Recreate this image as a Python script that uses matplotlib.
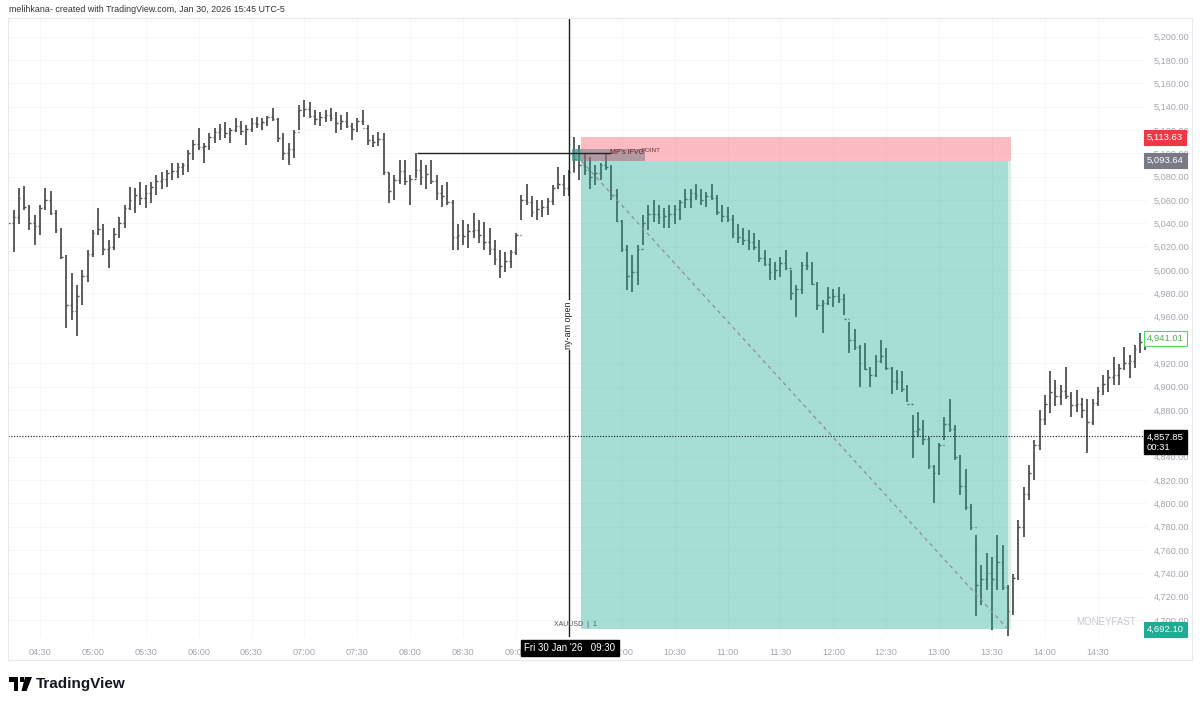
import numpy as np
import pandas as pd
import matplotlib
matplotlib.use("Agg")
import matplotlib.pyplot as plt
import matplotlib.dates as mdates
import matplotlib.transforms as mtransforms
from matplotlib.patches import Rectangle, Polygon

plt.rcParams['font.family'] = ['Liberation Sans', 'DejaVu Sans']

# XAUUSD, 3-minute bars
start = "2026-01-30 04:12"
first_open = 5060
highs = [
    5070, 5051, 5070, 5072, 5056, 5047, 5056, 5070, 5068, 5051,
    5036, 5013, 4997, 4987, 5000, 5017, 5034, 5053, 5039, 5026,
    5036, 5045, 5056, 5071, 5070, 5075, 5073, 5075, 5081, 5084,
    5086, 5092, 5092, 5092, 5103, 5111, 5122, 5109, 5117, 5122,
    5125, 5127, 5122, 5130, 5128, 5124, 5130, 5131, 5130, 5132,
    5139, 5130, 5117, 5109, 5120, 5141, 5146, 5144, 5137, 5135,
    5137, 5139, 5135, 5133, 5135, 5126, 5130, 5137, 5124, 5116,
    5118, 5117, 5083, 5081, 5094, 5094, 5081, 5100, 5094, 5090,
    5094, 5081, 5073, 5075, 5060, 5039, 5043, 5039, 5049, 5043,
    5041, 5036, 5026, 5017, 5015, 5017, 5032, 5064, 5074, 5063,
    5060, 5060, 5062, 5073, 5088, 5081, 5086, 5114, 5107, 5100,
    5097, 5090, 5092, 5099, 5090, 5069, 5043, 5021, 5013, 5021,
    5047, 5056, 5060, 5056, 5053, 5056, 5056, 5060, 5069, 5069,
    5074, 5069, 5067, 5074, 5064, 5056, 5054, 5047, 5039, 5036,
    5034, 5032, 5026, 5017, 5010, 5007, 5011, 5017, 5000, 4987,
    5007, 5015, 5007, 4990, 4974, 4985, 4984, 4985, 4979, 4955,
    4949, 4936, 4937, 4917, 4927, 4940, 4933, 4917, 4914, 4913,
    4901, 4876, 4878, 4871, 4857, 4833, 4852, 4874, 4889, 4867,
    4841, 4829, 4799, 4773, 4747, 4757, 4754, 4773, 4764, 4730,
    4739, 4786, 4814, 4833, 4854, 4880, 4893, 4913, 4906, 4901,
    4917, 4895, 4897, 4890, 4889, 4889, 4900, 4910, 4914, 4925,
    4919, 4934, 4927, 4936, 4946, 4944,
]
lows = [
    5030, 5015, 5039, 5051, 5034, 5021, 5030, 5051, 5047, 5032,
    5009, 4950, 4957, 4943, 4970, 4990, 5011, 5030, 5013, 5002,
    5017, 5027, 5036, 5051, 5049, 5056, 5053, 5057, 5064, 5069,
    5071, 5077, 5079, 5081, 5084, 5094, 5103, 5092, 5103, 5109,
    5111, 5113, 5109, 5118, 5116, 5107, 5118, 5122, 5120, 5123,
    5128, 5110, 5094, 5090, 5096, 5120, 5131, 5130, 5124, 5123,
    5127, 5128, 5117, 5120, 5122, 5111, 5118, 5124, 5107, 5105,
    5106, 5081, 5057, 5060, 5074, 5073, 5056, 5079, 5073, 5069,
    5074, 5060, 5054, 5056, 5017, 5017, 5021, 5019, 5027, 5023,
    5017, 5013, 5004, 4993, 4998, 5002, 5013, 5043, 5056, 5045,
    5043, 5045, 5047, 5056, 5069, 5063, 5063, 5084, 5077, 5081,
    5069, 5073, 5077, 5086, 5060, 5041, 5015, 4983, 4981, 4987,
    5021, 5034, 5041, 5039, 5036, 5036, 5039, 5043, 5053, 5053,
    5060, 5056, 5054, 5060, 5047, 5041, 5041, 5027, 5023, 5021,
    5017, 5017, 5007, 5003, 4991, 4991, 4994, 5000, 4974, 4960,
    4979, 5000, 4987, 4966, 4946, 4970, 4968, 4972, 4961, 4929,
    4931, 4900, 4914, 4900, 4908, 4920, 4914, 4894, 4897, 4895,
    4887, 4839, 4857, 4850, 4829, 4800, 4824, 4854, 4861, 4837,
    4807, 4794, 4777, 4703, 4713, 4726, 4691, 4726, 4726, 4686,
    4704, 4734, 4771, 4803, 4820, 4846, 4867, 4877, 4883, 4884,
    4889, 4874, 4878, 4873, 4843, 4867, 4883, 4893, 4895, 4901,
    4901, 4914, 4907, 4916, 4929, 4931,
]
closes = [
    5040, 5045, 5062, 5054, 5040, 5038, 5053, 5060, 5049, 5034,
    5011, 4970, 4965, 4978, 4995, 5014, 5032, 5035, 5018, 5020,
    5031, 5040, 5053, 5060, 5064, 5062, 5066, 5071, 5076, 5078,
    5083, 5085, 5088, 5090, 5100, 5108, 5105, 5106, 5114, 5118,
    5121, 5117, 5120, 5123, 5119, 5121, 5126, 5125, 5127, 5131,
    5129, 5113, 5100, 5104, 5118, 5137, 5138, 5132, 5129, 5131,
    5133, 5130, 5126, 5128, 5123, 5121, 5128, 5122, 5111, 5110,
    5112, 5084, 5068, 5077, 5085, 5076, 5078, 5086, 5080, 5082,
    5076, 5066, 5063, 5058, 5028, 5030, 5029, 5033, 5034, 5030,
    5024, 5018, 5009, 5003, 5008, 5015, 5030, 5060, 5058, 5050,
    5052, 5054, 5059, 5070, 5074, 5070, 5084, 5095, 5090, 5086,
    5080, 5083, 5090, 5088, 5064, 5042, 5018, 4995, 4998, 5018,
    5040, 5048, 5048, 5045, 5046, 5048, 5052, 5058, 5061, 5066,
    5064, 5060, 5063, 5062, 5050, 5046, 5044, 5032, 5028, 5026,
    5024, 5020, 5010, 5005, 4998, 5000, 5006, 5002, 4980, 4984,
    5004, 5003, 4988, 4970, 4972, 4977, 4978, 4975, 4958, 4940,
    4934, 4920, 4915, 4910, 4922, 4926, 4916, 4905, 4904, 4898,
    4885, 4862, 4864, 4855, 4832, 4826, 4850, 4868, 4864, 4840,
    4815, 4797, 4780, 4730, 4735, 4740, 4735, 4750, 4728, 4708,
    4736, 4780, 4808, 4826, 4850, 4872, 4885, 4895, 4892, 4896,
    4892, 4884, 4885, 4880, 4870, 4886, 4896, 4902, 4908, 4910,
    4916, 4920, 4922, 4932, 4938, 4941.01,
]
price_ticks = [4700, 4720, 4740, 4760, 4780, 4800, 4820, 4840, 4880, 4900,
               4920, 4960, 4980, 5000, 5020, 5040, 5060, 5080, 5100, 5120,
               5140, 5160, 5180, 5200]
time_ticks = ["04:30", "05:00", "05:30", "06:00", "06:30", "07:00", "07:30",
              "08:00", "08:30", "09:00", "10:00", "10:30", "11:00",
              "11:30", "12:00", "12:30", "13:00", "13:30", "14:00", "14:30"]

# drawings
entry, stop, target = 5093.64, 5113.63, 4692.10
last_price = 4941.01
dotted_price = 4857.85
level_price = 5100.3
ifvg_low, ifvg_high = 5093.0, 5103.5


def T(hhmm):
    return mdates.date2num(pd.Timestamp(f"2026-01-30 {hhmm}"))


def fx(px):
    return px / 1200


def fy(py):
    return 1 - py / 704


times = mdates.date2num(pd.date_range(start, periods=len(highs), freq="3min"))
opens = [first_open] + closes[:-1]
tick = 0.9 / 1440  # open/close tick length (days)

fig = plt.figure(figsize=(12, 7.04), dpi=100)
fig.patch.set_facecolor("white")
ax = fig.add_axes([fx(8), fy(637), 1139 / 1200, 619 / 704])
ax.set_xlim(T("04:11:51"), T("14:57:54"))
ax.set_ylim(4685.4, 5216.0)
for s in ax.spines.values():
    s.set_visible(False)

# axes / grid
ax.set_xticks([T(t) for t in time_ticks])
ax.xaxis.set_major_formatter(mdates.DateFormatter("%H:%M"))
ax.set_yticks(price_ticks)
ax.set_yticklabels([f"{p:,.2f}" for p in price_ticks])
ax.yaxis.tick_right()
ax.tick_params(axis="both", length=0, labelsize=6.6, labelcolor="#a3a6af")
ax.tick_params(axis="x", pad=8)
ax.tick_params(axis="y", pad=5)
ax.grid(color="#f6f7f9", lw=0.7)
ax.set_axisbelow(True)

# OHLC bars
bar_col = "#4f4f4f"
ax.vlines(times, lows, highs, color=bar_col, lw=1.3, zorder=2)
ax.hlines(opens, times - tick, times, color=bar_col, lw=1.0, zorder=2)
ax.hlines(closes, times, times + tick, color=bar_col, lw=1.0, zorder=2)

# position tool
t0, t1, t1g = T("09:37"), T("13:41"), T("13:39")
ax.add_patch(Rectangle((t0, entry), t1 - t0, stop - entry, fc="#f23645",
                       alpha=0.33, lw=0, zorder=3))
ax.add_patch(Rectangle((t0, target), t1g - t0, entry - target, fc="#22ab94",
                       alpha=0.4, lw=0, zorder=3))
ax.add_patch(Rectangle((t1g, target), t1 - t1g, entry - target, fc="#22ab94",
                       alpha=0.18, lw=0, zorder=3))
ax.plot([t0, t1g], [entry, target], ls=(0, (3, 3)), color="#8c8f96",
        lw=0.9, zorder=4)

# IFVG box and level
ax.add_patch(Rectangle((T("09:32"), ifvg_low), T("10:13") - T("09:32"),
                       ifvg_high - ifvg_low, fc="#787b86", alpha=0.55,
                       lw=0, zorder=4))
ax.add_patch(Rectangle((T("09:32"), ifvg_low), T("09:37") - T("09:32"),
                       ifvg_high - ifvg_low, fc="#22ab94", alpha=0.5,
                       lw=0, zorder=4))
ax.hlines(level_price, T("08:04"), T("09:54"), color="#222222", lw=1, zorder=5)
ax.text(T("10:03"), level_price, "MP's IFVG", fontsize=5, color="#6b1d1d",
        ha="center", va="center", zorder=6)
ax.text(T("10:11"), 5102.5, "POINT", fontsize=4.5, color="#7a2a2a",
        ha="left", va="center", zorder=6)

# session open line
ax.axvline(T("09:30"), color="#1e1e1e", lw=1, zorder=5)
ax.text(T("09:30"), 4953, "ny-am open", rotation=90, fontsize=6.5,
        color="#222222", ha="center", va="center", zorder=6,
        bbox=dict(boxstyle="square,pad=0.15", fc="white", ec="none"))
ax.text(T("09:46"), 4695.7, "XAUUSD  |  1", fontsize=5, color="#555555",
        ha="right", va="center", zorder=6)

# dotted price line
ax.axhline(dotted_price, color="#131722", ls=(0, (1, 1.5)), lw=0.8, zorder=5)

# right-hand price labels
trans = mtransforms.blended_transform_factory(ax.transAxes, ax.transData)


def price_label(price, text, fc, tc, ec=None):
    ax.text(1.0, price, text, transform=trans, fontsize=6.8, color=tc,
            ha="left", va="center", zorder=10, clip_on=False,
            bbox=dict(boxstyle="square,pad=0.3", fc=fc, ec=ec or fc, lw=0.8))


price_label(stop, f"{stop:,.2f}", "#f23645", "white")
price_label(entry, f"{entry:,.2f}", "#787b86", "white")
price_label(last_price, f"{last_price:,.2f}", "white", "#4caf50", "#4cd964")
price_label(target, f"{target:,.2f}", "#22ab94", "white")
ax.text(1.0, dotted_price - 5.5, f"{dotted_price:,.2f}\n00:31", transform=trans,
        fontsize=6.8, color="white", ha="left", va="center", zorder=10,
        clip_on=False, linespacing=1.1,
        bbox=dict(boxstyle="square,pad=0.3", fc="black", ec="black"))

# date label on the time axis
fig.text(fx(570), fy(648), "Fri 30 Jan '26   09:30", fontsize=7, color="white",
         ha="center", va="center", zorder=10,
         bbox=dict(boxstyle="square,pad=0.35", fc="black", ec="black"))

# watermark
fig.text(fx(1106), fy(622), "MONEYFAST", fontsize=7, color="#c5c8d0",
         ha="center", va="center")

# header and panel border
fig.text(fx(9), fy(10), "melihkana- created with TradingView.com, Jan 30, 2026 15:45 UTC-5",
         fontsize=6.4, color="#333333", ha="left", va="center")
fig.add_artist(Rectangle((fx(8), fy(660)), fx(1184), 642 / 704, fill=False,
                         ec="#e6e8ee", lw=0.8, transform=fig.transFigure))


# TradingView logo
def P(pts):
    return [(fx(a), fy(b)) for a, b in pts]


fig.add_artist(Polygon(P([(9, 677), (18, 677), (18, 691), (13.5, 691),
                          (13.5, 681.5), (9, 681.5)]), closed=True,
                       fc="black", ec="none", transform=fig.transFigure))
fig.add_artist(Polygon(P([(19.5, 677), (24, 677), (24, 681.5), (19.5, 681.5)]),
                       closed=True, fc="black", ec="none",
                       transform=fig.transFigure))
fig.add_artist(Polygon(P([(25, 677), (32, 677), (26.5, 691), (21.5, 691)]),
                       closed=True, fc="black", ec="none",
                       transform=fig.transFigure))
fig.text(fx(36), fy(684), "TradingView", fontsize=11, fontweight="bold",
         color="#131722", ha="left", va="center")

fig.savefig("out.png", dpi=100)
